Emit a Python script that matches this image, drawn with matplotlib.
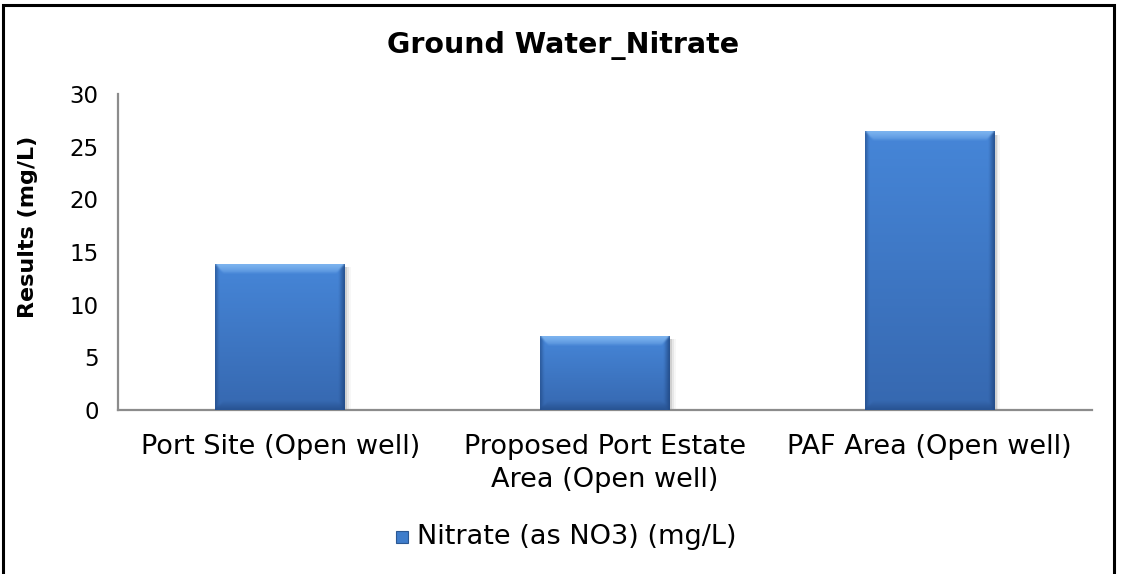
import numpy as np
import matplotlib
matplotlib.use("Agg")
import matplotlib.pyplot as plt
from matplotlib.patches import Rectangle
from matplotlib.colors import to_rgb

categories = ["Port Site (Open well)", "Proposed Port Estate\nArea (Open well)", "PAF Area (Open well)"]
nitrate = [13.8, 7.0, 26.4]
yticks = [0, 5, 10, 15, 20, 25, 30]
series_name = "Nitrate (as NO3) (mg/L)"

W, H = 1122, 574
fig = plt.figure(figsize=(W / 100, H / 100), dpi=100)
ax = fig.add_axes([118 / W, 1 - 410 / H, (1092 - 118) / W, (410 - 94) / H])

x = np.arange(len(categories))
bars = ax.bar(x, nitrate, width=0.4, color="#3f7dcb", zorder=2)
ax.set_xlim(-0.5, len(categories) - 0.5)
ax.set_ylim(0, 30)
ax.set_yticks(yticks)
ax.set_xticks(x)
ax.set_xticklabels(categories, fontsize=19.5, linespacing=1.38)
ax.tick_params(axis="y", length=0, labelsize=16.5, pad=14)
ax.tick_params(axis="x", length=0, pad=17)
for s in ["top", "right"]:
    ax.spines[s].set_visible(False)
for s in ["left", "bottom"]:
    ax.spines[s].set_color("#8c8c8c")
    ax.spines[s].set_linewidth(1.6)
ax.set_ylabel("Results (mg/L)", fontsize=16, fontweight="bold")
ax.yaxis.set_label_coords(-0.082, 0.58)


def blur(img, r=1):
    # box blur with edge padding
    out = img.copy()
    h, w = out.shape[:2]
    p = np.pad(out, ((r, r), (0, 0), (0, 0)), mode="edge")
    out = sum(p[k:k + h] for k in range(2 * r + 1)) / (2 * r + 1)
    p = np.pad(out, ((0, 0), (r, r), (0, 0)), mode="edge")
    out = sum(p[:, k:k + w] for k in range(2 * r + 1)) / (2 * r + 1)
    return out


def bevel_image(w, h, b=9):
    c_top = np.array(to_rgb("#4686d8"))
    c_bot = np.array(to_rgb("#3668b0"))
    hi = np.array(to_rgb("#8fc3f7"))
    dark = np.array(to_rgb("#1f4680"))
    rows = np.arange(h)[:, None] * np.ones((1, w))
    cols = np.arange(w)[None, :] * np.ones((h, 1))
    t = (rows / max(h - 1, 1))[..., None]
    img = c_top * (1 - t) + c_bot * t
    dt, db = rows, h - 1 - rows
    dl, dr = cols, w - 1 - cols
    dmin = np.minimum(np.minimum(dt, db), np.minimum(dl, dr))
    # top bevel: highlight fading into the body
    m = (dt == dmin) & (dt < b)
    f = (1 - dt / b)[..., None] ** 0.6 * 0.75
    img = np.where(m[..., None], img * (1 - f) + hi * f, img)
    # right and bottom bevels: darker shading
    m = (dr == dmin) & (dr < b - 3)
    f = (1 - dr / (b - 3))[..., None] * 0.8
    img = np.where(m[..., None], img * (1 - f) + dark * f, img)
    m = (db == dmin) & (db < b)
    f = (1 - db / b)[..., None] * 0.6
    img = np.where(m[..., None], img * (1 - f) + dark * f, img)
    # thin darker left edge
    m = (dl == dmin) & (dl < 4)
    f = (1 - dl / 4)[..., None] * 0.6
    img = np.where(m[..., None], img * (1 - f) + dark * f, img)
    return np.clip(blur(img, 1), 0, 1)


fig.canvas.draw()
for rect in bars:
    x0, y0 = rect.get_x(), rect.get_y()
    x1, y1 = x0 + rect.get_width(), y0 + rect.get_height()
    (px0, py0), (px1, py1) = ax.transData.transform([(x0, y0), (x1, y1)])
    w, h = int(round(px1 - px0)), int(round(py1 - py0))
    ax.imshow(bevel_image(w, h), extent=(x0, x1, y0, y1), aspect="auto",
              origin="upper", zorder=3, interpolation="nearest")
    # soft shadow on the right
    for k, a in enumerate([0.10, 0.06, 0.03]):
        ax.add_patch(Rectangle((x1, y0), 0.006 * (k + 1), rect.get_height() - 0.25,
                               color="#000000", alpha=a, lw=0, zorder=1))
ax.set_xlim(-0.5, len(categories) - 0.5)
ax.set_ylim(0, 30)

fig.text(563 / W, 1 - 45 / H, "Ground Water_Nitrate", ha="center", va="center",
         fontsize=20.5, fontweight="bold")

# legend
lx, ly = 402 / W, 1 - 537 / H
fig.patches.append(Rectangle((lx - 6 / W, ly - 6 / H), 12 / W, 12 / H,
                             transform=fig.transFigure, facecolor="#3f7dcb",
                             edgecolor="#2b5893", lw=0.8))
fig.text(417 / W, ly, series_name, ha="left", va="center", fontsize=19.5)

# chart border
fig.patches.append(Rectangle((3 / W, -0.05), 1111 / W, 1 - 5 / H + 0.05,
                             transform=fig.transFigure, fill=False,
                             edgecolor="black", lw=2.2))

fig.savefig("out.png", dpi=100)
